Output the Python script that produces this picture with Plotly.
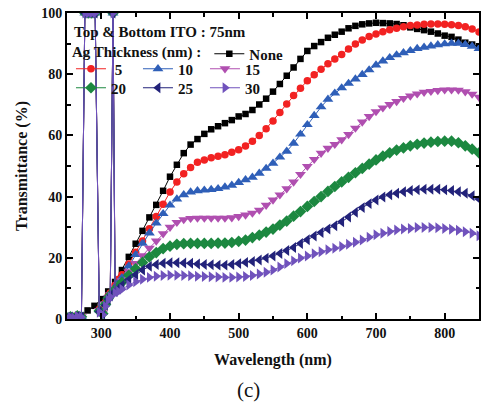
import plotly.graph_objects as go

# ---------------- data ----------------
wl_none = list(range(250, 851, 10))
wl_ag = [250, 255, 260, 265, 271, 276, 281, 286, 291, 297, 302, 306, 310, 313, 317, 320, 325] + list(range(330, 851, 10))

t_none = [0.5, 0.6, 1.0, 2.8, 4.3, 6.5, 9.0, 12.1, 16, 20.3, 24.6, 28.8, 33.2, 37.3, 41.9, 46.5,
          50.4, 54.2, 57, 58.8, 60.5, 62, 63, 64, 65, 66.2, 67, 68.3, 70.1, 72, 74.3, 76.8, 79.5,
          82.2, 85, 87.6, 89.2, 90.5, 91.9, 92.9, 93.9, 95, 95.8, 96.3, 96.6, 96.8, 96.7, 96.6,
          96.4, 96, 95.3, 94.8, 94.4, 93.9, 93.3, 92.6, 92.2, 91.3, 90.3, 89.7, 89.1]

t_5 = [0.6, 0.9, 0.5, 1.2, 0.9, 100, 100, 100, 100, 3.2, 2.4, 5.5, 7.5, 8.5, 100, 11, 13,
       14.5, 18, 21.8, 25.5, 29.5, 33.5, 37.5, 41.5, 44.8, 47.5,
       49.5, 51.2, 52, 52.7, 53.2, 53.7, 54.5, 55.3, 56.5, 58.1,
       60, 62.2, 64.7, 67.5, 70.3, 73, 75.4, 77.9, 79.8, 81.6,
       83.4, 85, 86.4, 88.2, 89.9, 91.2, 92.3, 93.1, 93.9, 94.5,
       95, 95.5, 95.9, 96.1, 96.3, 96.4, 96.4, 96.3, 96.2, 95.9,
       95.5, 94.8, 93.8]

t_10 = [0.5, 0.8, 0.4, 1.1, 0.8, 100, 100, 100, 100, 3.0, 2.2, 5.2, 7.2, 8.2, 100, 10.5, 12,
        13.5, 17.3, 21, 24.7, 28.1, 31.3, 34.4, 37.2, 39.2, 40.6,
        41.5, 41.9, 42.1, 42.3, 42.6, 43.1, 43.7, 44.6, 45.5, 46.3,
        47.6, 49.2, 50.9, 52.9, 54.8, 57.4, 60.4, 63.5, 66.5, 69.3,
        71.8, 73.8, 75.5, 77, 78.4, 79.9, 81.4, 83, 84.3, 85.4,
        86.3, 87, 87.7, 88.4, 88.8, 89.2, 89.6, 89.9, 90.1, 90.1,
        89.7, 89.1, 88.4]

t_15 = [0.5, 0.8, 0.4, 1.0, 0.8, 100, 100, 100, 100, 2.8, 2.0, 5.0, 7.0, 8.0, 100, 10, 11.2,
        12.5, 15.5, 18.2, 20.7, 23.2, 25.5, 27.9, 30, 31.6, 32.5,
        32.9, 33, 33, 33, 33, 33, 33.1, 33.5, 34, 34.6,
        35.6, 37.2, 38.9, 40.6, 42.6, 44.8, 47.3, 49.9, 52.2, 54.2,
        55.8, 57.1, 58.6, 60.3, 62.4, 64.4, 66.2, 67.8, 69, 70.1,
        71.1, 72.1, 72.9, 73.6, 74.1, 74.4, 74.7, 74.9, 74.9, 74.8,
        74.3, 73.5, 72.5]

t_20 = [0.4, 0.7, 0.3, 1.0, 0.7, 100, 100, 100, 100, 2.6, 1.8, 4.8, 6.8, 7.8, 100, 9.6, 10.6,
        12, 14.3, 16.4, 18.5, 20.3, 21.7, 23, 23.8, 24.4, 24.6,
        24.7, 24.7, 24.7, 24.7, 24.8, 24.8, 25, 25.4, 25.8, 26.6,
        27.4, 28.4, 29.4, 30.7, 32, 33.6, 35.1, 36.8, 38.4, 40,
        41.7, 43.3, 44.8, 46.3, 47.8, 49.2, 50.6, 52, 53.2, 54.3,
        55.2, 55.9, 56.6, 57.1, 57.5, 57.8, 58, 58.1, 58.1, 57.6,
        56.6, 55.5, 54.3]

t_25 = [0.4, 0.7, 0.3, 0.9, 0.7, 100, 100, 100, 100, 2.4, 1.6, 4.5, 6.5, 7.5, 100, 9, 9.8,
        11, 12.8, 14.5, 16, 17.2, 17.8, 18.2, 18.4, 18.4, 18.3,
        18.2, 18, 17.8, 17.7, 17.6, 17.6, 17.8, 18.1, 18.5, 18.8,
        19.3, 19.9, 20.6, 21.4, 22.4, 23.4, 24.7, 25.9, 27.1, 28.3,
        29.4, 30.5, 31.8, 33.3, 34.9, 36.4, 37.7, 38.9, 39.9, 40.6,
        41.1, 41.6, 42, 42.2, 42.4, 42.4, 42.4, 42.2, 42, 41.6,
        41.1, 40.3, 39.2]

t_30 = [0.4, 0.6, 0.3, 0.9, 0.6, 100, 100, 100, 100, 2.2, 1.4, 4.2, 6.2, 7.2, 100, 8.5, 9,
        9.7, 11.1, 12.2, 13, 13.6, 14, 14.2, 14.3, 14.3, 14.2,
        14.1, 14, 13.9, 13.8, 13.7, 13.6, 13.6, 13.7, 13.9, 14.2,
        14.7, 15.3, 16, 17, 18.1, 19, 19.9, 20.6, 21.3, 22,
        22.6, 23.1, 23.7, 24.4, 25.1, 25.8, 26.7, 27.5, 28, 28.6,
        29.1, 29.4, 29.6, 29.9, 29.9, 29.9, 29.8, 29.6, 29.3, 29,
        28.5, 28, 27.2]

series_names = ["None", "\u00a05", "10", "15", "20", "25", "30"]

# ---------------- styles ----------------
FONT = "Liberation Serif, Times New Roman, serif"
styles = [
    dict(color="#000000", symbol="square", size=6.5, legend="legend"),
    dict(color="#f22222", symbol="circle", size=7.5, legend="legend2"),
    dict(color="#2f5fb8", symbol="triangle-up", size=9.5, legend="legend2"),
    dict(color="#b04fb0", symbol="triangle-down", size=9.5, legend="legend2"),
    dict(color="#1c8840", symbol="diamond", size=9, legend="legend3"),
    dict(color="#22227a", symbol="triangle-left", size=9.5, legend="legend3"),
    dict(color="#7052bc", symbol="triangle-right", size=9.5, legend="legend3"),
]
xs = [wl_none, wl_ag, wl_ag, wl_ag, wl_ag, wl_ag, wl_ag]
ys = [t_none, t_5, t_10, t_15, t_20, t_25, t_30]

fig = go.Figure()
for name, x, y, st in zip(series_names, xs, ys, styles):
    fig.add_trace(go.Scatter(
        x=x, y=y, name=name, mode="lines+markers",
        line=dict(color=st["color"], width=1),
        marker=dict(color=st["color"], symbol=st["symbol"], size=st["size"], line=dict(width=0)),
        legend=st["legend"], cliponaxis=True,
    ))

W, H = 482, 403
ml, mr, mt, mb = 67, 1, 13, 84
pw, ph = W - ml - mr, H - mt - mb

def px(x):
    return (x - ml) / pw

def py(y):
    return (H - mb - y) / ph

legfont = dict(family=FONT, size=15, color="#111111", weight="bold")
common_leg = dict(font=legfont, bgcolor="rgba(0,0,0,0)", borderwidth=0,
                  orientation="h", itemwidth=30, xanchor="left", yanchor="middle",
                  tracegroupgap=0, itemclick=False)

fig.update_layout(
    width=W, height=H,
    margin=dict(l=ml, r=mr, t=mt, b=mb, pad=0),
    paper_bgcolor="white", plot_bgcolor="white",
    font=dict(family=FONT, color="#111111"),
    showlegend=True,
    legend=dict(common_leg, x=px(70), y=py(54),
                title=dict(text="Ag Thickness (nm) :", side="left", font=legfont)),
    legend2=dict(common_leg, x=px(71), y=py(69), entrywidth=22, entrywidthmode="pixels"),
    legend3=dict(common_leg, x=px(71), y=py(88), entrywidth=22, entrywidthmode="pixels"),
    xaxis=dict(
        range=[250, 850], dtick=100, tick0=0,
        showline=True, linecolor="#000", linewidth=2, mirror="allticks",
        ticks="inside", ticklen=6, tickwidth=1.5, tickcolor="#000",
        minor=dict(dtick=50, ticks="inside", ticklen=3.5, tickwidth=1.5, tickcolor="#000"),
        showgrid=False, zeroline=False,
        tickfont=dict(family=FONT, size=14, color="#111", weight="bold"),
        title=dict(text="Wavelength (nm)", standoff=14,
                   font=dict(family=FONT, size=16, color="#111", weight="bold")),
    ),
    yaxis=dict(
        range=[0, 100], dtick=20,
        showline=True, linecolor="#000", linewidth=2, mirror="allticks",
        ticks="inside", ticklen=6, tickwidth=1.5, tickcolor="#000",
        minor=dict(dtick=10, ticks="inside", ticklen=3.5, tickwidth=1.5, tickcolor="#000"),
        showgrid=False, zeroline=False,
        tickfont=dict(family=FONT, size=14, color="#111", weight="bold"),
        title=dict(text="Transmittance (%)", standoff=10,
                   font=dict(family=FONT, size=16, color="#111", weight="bold")),
    ),
    annotations=[
        dict(text="Top & Bottom ITO : 75nm", xref="paper", yref="paper",
             x=px(72), y=py(32), xanchor="left", yanchor="middle", showarrow=False,
             font=legfont),
        dict(text="(c)", xref="paper", yref="paper", x=px(249), y=py(390),
             xanchor="center", yanchor="middle", showarrow=False,
             font=dict(family=FONT, size=21, color="#111")),
    ],
)

fig.write_html("out.html")
